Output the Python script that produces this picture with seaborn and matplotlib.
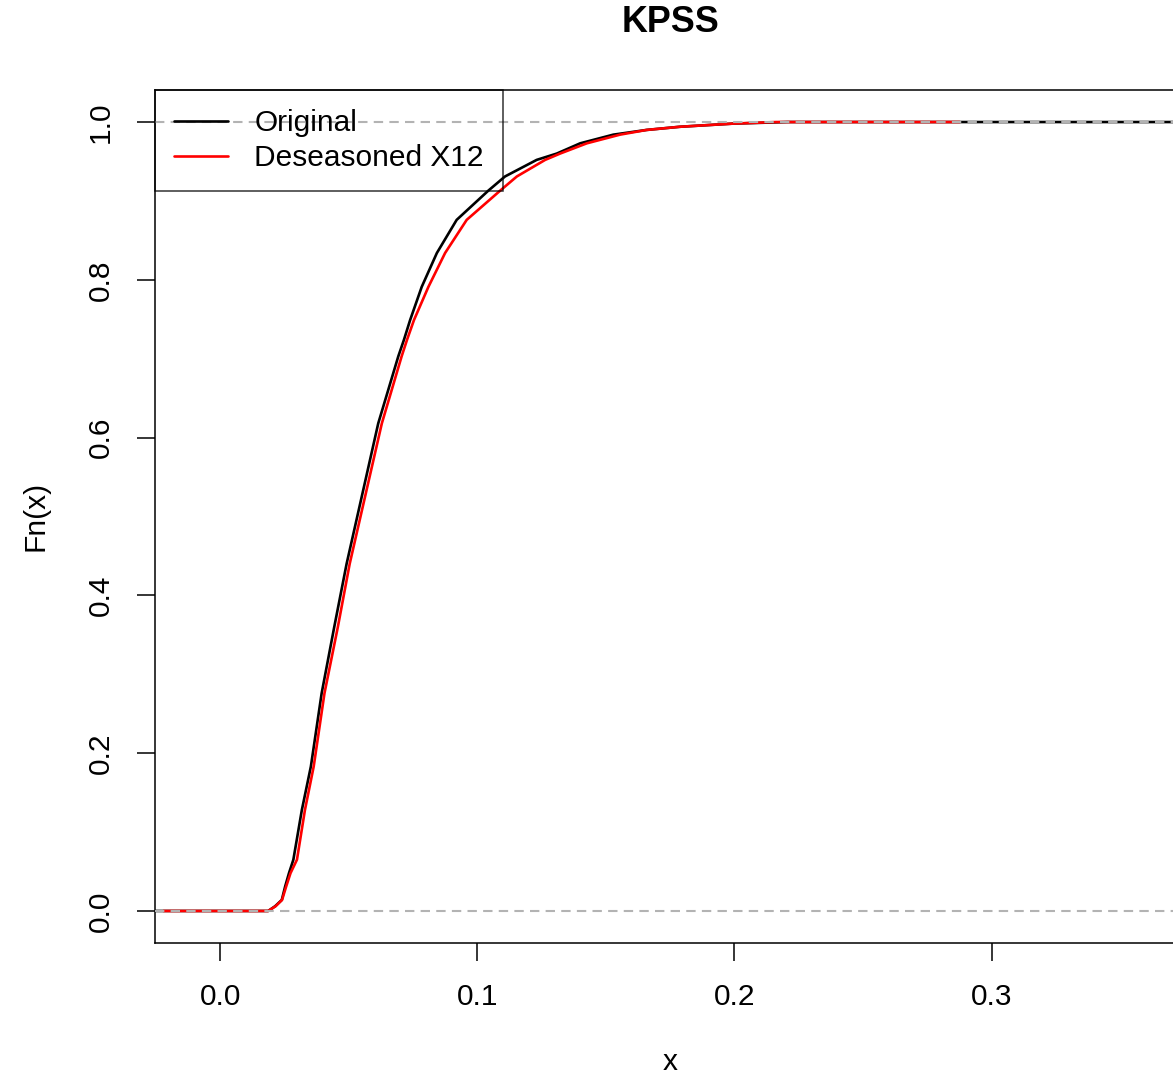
import matplotlib
matplotlib.use("Agg")
import matplotlib.pyplot as plt
import seaborn as sns
import pandas as pd
from matplotlib.lines import Line2D

# Empirical CDF of the KPSS statistic: x values where Fn reaches each level
fn_levels = [0.0, 0.006, 0.014, 0.031, 0.048, 0.065, 0.128, 0.183, 0.276, 0.360,
             0.440, 0.534, 0.618, 0.703, 0.724, 0.749, 0.791, 0.834, 0.876, 0.913,
             0.931, 0.952, 0.960, 0.973, 0.984, 0.990, 0.994, 0.998, 1.0]

original_x = [0.0187, 0.0214, 0.0240, 0.0253, 0.0268, 0.0285, 0.0318, 0.0353, 0.0395, 0.0444,
              0.0492, 0.0557, 0.0615, 0.0693, 0.0715, 0.0739, 0.0784, 0.0843, 0.0920, 0.1043,
              0.1108, 0.1231, 0.1309, 0.1400, 0.1529, 0.1659, 0.1788, 0.1995, 0.2208]

x12_x = [0.0187, 0.0216, 0.0241, 0.0257, 0.0274, 0.0299, 0.0330, 0.0364, 0.0406, 0.0458,
         0.0504, 0.0570, 0.0629, 0.0706, 0.0727, 0.0754, 0.0810, 0.0875, 0.0959, 0.1089,
         0.1154, 0.1264, 0.1322, 0.1426, 0.1555, 0.1659, 0.1788, 0.1995, 0.2162]

# Horizontal extensions of each step function (left at Fn=0, right at Fn=1)
original_ext = (-0.05, 0.50)
x12_ext = (-0.022, 0.2876)

series_names = ["Original", "Deseasoned X12"]
series_colors = ["black", "red"]

x_ticks = [0.0, 0.1, 0.2, 0.3]
x_tick_labels = ["0.0", "0.1", "0.2", "0.3"]
y_ticks = [0.0, 0.2, 0.4, 0.6, 0.8, 1.0]
y_tick_labels = ["0.0", "0.2", "0.4", "0.6", "0.8", "1.0"]


def ecdf_frame(xs, ext, name):
    xx = [ext[0]] + list(xs) + [ext[1]]
    yy = [0.0] + list(fn_levels) + [1.0]
    return pd.DataFrame({"x": xx, "Fn": yy, "series": name})


sns.set_theme(style="white")
plt.rcParams["font.family"] = ["Liberation Sans", "DejaVu Sans"]
FS = 21.5

W, H = 1173, 1074
fig = plt.figure(figsize=(W / 100, H / 100), dpi=100)
ax = fig.add_axes([155 / W, 1 - 943 / H, (1185 - 155) / W, (943 - 90) / H])

frames = [ecdf_frame(original_x, original_ext, series_names[0]),
          ecdf_frame(x12_x, x12_ext, series_names[1])]
for df, col in zip(frames, series_colors):
    sns.lineplot(data=df, x="x", y="Fn", sort=False, estimator=None,
                 color=col, lw=1.9, ax=ax, legend=False)

for h in (0.0, 1.0):
    ax.axhline(h, color="#B3B3B3", lw=1.5, ls=(0, (4.5, 3)), zorder=4)

ax.set_xlim(-0.0253, 0.3752)
ax.set_ylim(-0.0406, 1.0406)
ax.set_xticks(x_ticks, x_tick_labels)
ax.set_yticks(y_ticks, y_tick_labels)
ax.tick_params(axis="both", direction="out", length=13, width=1.1,
               color="black", labelsize=FS, labelcolor="black", pad=16,
               bottom=True, left=True)
ax.tick_params(axis="y", labelrotation=90)
for lab in ax.get_yticklabels():
    lab.set_va("center")

for sp in ax.spines.values():
    sp.set_color("black")
    sp.set_linewidth(1.1)

ax.set_xlabel("")
ax.set_ylabel("")
fig.text(670 / W, 1 - 1062 / H, "x", ha="center", va="center", fontsize=FS, color="black")
fig.text(35 / W, 1 - 516 / H, "Fn(x)", ha="center", va="center", rotation=90,
         fontsize=FS, color="black")
fig.text(670 / W, 1 - 22 / H, "KPSS", ha="center", va="center", fontsize=FS * 1.2,
         fontweight="bold", color="black")

handles = [Line2D([], [], color=c, lw=1.9) for c in series_colors]
leg = ax.legend(handles, series_names, loc="upper left", bbox_to_anchor=(0, 1),
                borderaxespad=0, frameon=True, fancybox=False, edgecolor="black",
                facecolor="none", fontsize=FS, handlelength=1.8, handletextpad=0.87,
                borderpad=0.65, labelspacing=0.22)
leg.get_frame().set_linewidth(1.1)
for t in leg.get_texts():
    t.set_color("black")

fig.savefig("out.png", dpi=100)
